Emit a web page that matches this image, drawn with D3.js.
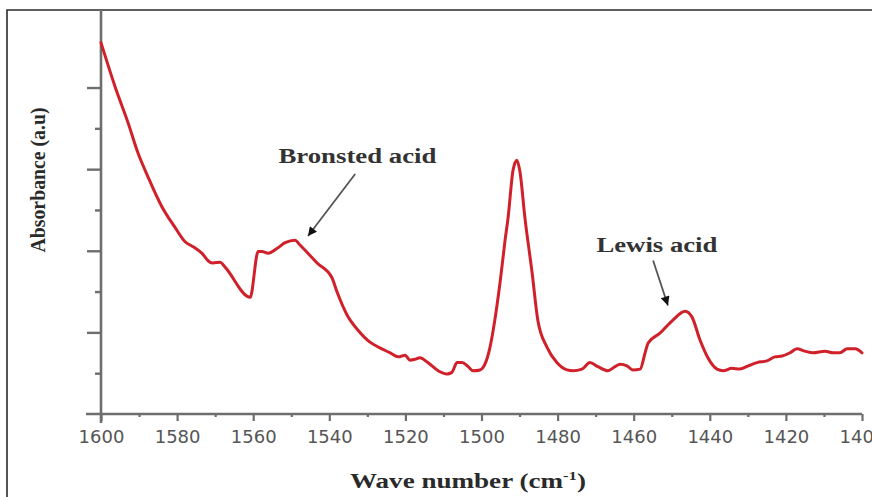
<!DOCTYPE html>
<html>
<head>
<meta charset="utf-8">
<script src="https://cdn.jsdelivr.net/npm/d3@7"></script>
<style>
  html, body { margin: 0; padding: 0; background: #fff; }
  svg { display: block; }
</style>
</head>
<body>
<svg id="chart" width="872" height="497"></svg>
<script>
// wave number (cm-1)
var waveNumbers = [1600, 1596.3, 1592.9, 1590.3, 1587.6, 1584.0, 1580.6, 1577.9, 1575.8, 1573.5,
    1571.4, 1570.6, 1568.7, 1567.4, 1560.8, 1558.7, 1557.7, 1556.1, 1553.7, 1551.6,
    1549.0, 1547.7, 1543.2, 1539.3, 1538.0, 1535.3, 1532.5, 1529.3, 1526.7, 1524.0,
    1521.9, 1520.1, 1518.8, 1517.5, 1516.2, 1514.1, 1511.4, 1509.1, 1507.8, 1506.4,
    1505.1, 1503.5, 1502.2, 1500.4, 1499.1, 1497.8, 1496.5, 1495.1, 1493.8, 1493.0,
    1491.7, 1490.7, 1489.9, 1488.6, 1486.7, 1485.2, 1482.8, 1480.2, 1477.5, 1476.0,
    1473.6, 1471.5, 1469.4, 1466.8, 1464.9, 1463.6, 1461.8, 1460.2, 1458.3, 1457.0,
    1456.2, 1453.1, 1449.7, 1446.5, 1444.7, 1442.6, 1440.5, 1438.1, 1436.5, 1434.2,
    1432.1, 1429.9, 1427.6, 1425.0, 1422.9, 1421.0, 1418.9, 1417.1, 1415.0, 1412.9,
    1409.7, 1407.6, 1405.8, 1403.9, 1401.8, 1400];

// absorbance (arbitrary units)
var absorbance = [4.55, 4.01, 3.57, 3.20, 2.90, 2.54, 2.29, 2.11, 2.05, 1.97,
    1.86, 1.85, 1.86, 1.80, 1.43, 1.99, 1.99, 1.97, 2.03, 2.10,
    2.13, 2.07, 1.85, 1.67, 1.50, 1.21, 1.03, 0.88, 0.81, 0.75,
    0.70, 0.72, 0.66, 0.67, 0.69, 0.63, 0.53, 0.49, 0.51, 0.63,
    0.63, 0.58, 0.53, 0.54, 0.61, 0.81, 1.15, 1.62, 2.13, 2.41,
    2.99, 3.11, 2.97, 2.41, 1.73, 1.15, 0.82, 0.63, 0.54, 0.53,
    0.55, 0.63, 0.58, 0.53, 0.58, 0.61, 0.59, 0.54, 0.55, 0.75,
    0.87, 0.99, 1.15, 1.26, 1.19, 0.91, 0.69, 0.55, 0.53, 0.56,
    0.55, 0.59, 0.63, 0.65, 0.70, 0.71, 0.75, 0.80, 0.77, 0.75,
    0.77, 0.75, 0.75, 0.80, 0.80, 0.75];

var xMajorTicks = [1600, 1580, 1560, 1540, 1520, 1500, 1480, 1460, 1440, 1420, 1400];
var xMinorTicks = [1590, 1570, 1550, 1530, 1510, 1490, 1470, 1450, 1430, 1410];
var yMajorTicks = [1, 2, 3, 4];
var yMinorTicks = [0.5, 1.5, 2.5, 3.5];

// annotations: label, text anchor, arrow tail, arrow tip (data units)
var annotationLabels = ['Bronsted acid', 'Lewis acid'];
var annotationText = [[1532.6, 3.07], [1453.9, 1.99]];
var annotationTail = [[1533.2, 2.94], [1454.9, 1.88]];
var annotationTip = [[1545.6, 2.18], [1451.0, 1.33]];

var svg = d3.select('#chart');

// frame (cropped image border, only top and left visible)
svg.append('path')
    .attr('d', 'M7,497 L7,10 L872,10')
    .attr('fill', 'none')
    .attr('stroke', '#2b2b2b')
    .attr('stroke-width', 1.6);

var x = d3.scaleLinear().domain([1600, 1400]).range([101, 862]);
var y = d3.scaleLinear().domain([0, 4.95]).range([414, 10]);

var axisColor = '#6e6e6e';

// y axis
var yAxis = svg.append('g')
    .attr('transform', 'translate(' + x(1600) + ',0)');
yAxis.call(d3.axisLeft(y).tickValues(yMajorTicks).tickSize(14).tickFormat(''));
yAxis.append('g').call(d3.axisLeft(y).tickValues(yMinorTicks).tickSize(6).tickFormat(''));
yAxis.selectAll('.domain').remove();
yAxis.selectAll('line').attr('stroke', axisColor).attr('stroke-width', 2.4);
yAxis.append('line')
    .attr('x1', 0).attr('x2', 0)
    .attr('y1', y(0) + 9).attr('y2', y(4.95))
    .attr('stroke', axisColor).attr('stroke-width', 2.6);

// x axis
var xAxis = svg.append('g')
    .attr('transform', 'translate(0,' + y(0) + ')');
xAxis.call(d3.axisBottom(x).tickValues(xMajorTicks).tickSize(7).tickPadding(9)
    .tickFormat(d3.format('d')));
xAxis.append('g').call(d3.axisBottom(x).tickValues(xMinorTicks).tickSize(3).tickFormat(''));
xAxis.selectAll('.domain').remove();
xAxis.selectAll('line').attr('stroke', axisColor).attr('stroke-width', 2.2);
xAxis.selectAll('text')
    .attr('fill', '#555')
    .style('font-family', '"DejaVu Sans", sans-serif')
    .style('font-size', '18px');
xAxis.append('line')
    .attr('x1', x(1600) - 15).attr('x2', x(1400))
    .attr('y1', 0).attr('y2', 0)
    .attr('stroke', axisColor).attr('stroke-width', 2.6);

// spectrum
var line = d3.line()
    .x(function(d, i) { return x(waveNumbers[i]); })
    .y(function(d) { return y(d); })
    .curve(d3.curveMonotoneX);

svg.append('path')
    .datum(absorbance)
    .attr('d', line)
    .attr('fill', 'none')
    .attr('stroke', '#d0202a')
    .attr('stroke-width', 3)
    .attr('stroke-linejoin', 'round')
    .attr('stroke-linecap', 'round');

// arrow markers
svg.append('defs').append('marker')
    .attr('id', 'arrow')
    .attr('viewBox', '0 0 10 10')
    .attr('refX', 10).attr('refY', 5)
    .attr('markerWidth', 7).attr('markerHeight', 5)
    .attr('markerUnits', 'strokeWidth')
    .attr('orient', 'auto')
    .append('path')
    .attr('d', 'M0,0 L10,5 L0,10 Z')
    .attr('fill', '#111');

var serif = '"Liberation Serif", "Times New Roman", serif';
var labelWidths = [158, 121];

annotationLabels.forEach(function(label, i) {
    svg.append('line')
        .attr('x1', x(annotationTail[i][0])).attr('y1', y(annotationTail[i][1]))
        .attr('x2', x(annotationTip[i][0])).attr('y2', y(annotationTip[i][1]))
        .attr('stroke', '#555')
        .attr('stroke-width', 1.8)
        .attr('marker-end', 'url(#arrow)');

    svg.append('text')
        .attr('x', x(annotationText[i][0]))
        .attr('y', y(annotationText[i][1]))
        .attr('text-anchor', 'middle')
        .attr('textLength', labelWidths[i])
        .attr('lengthAdjust', 'spacingAndGlyphs')
        .attr('fill', '#333')
        .style('font-family', serif)
        .style('font-weight', 'bold')
        .style('font-size', '20px')
        .text(label);
});

// axis titles
svg.append('text')
    .attr('transform', 'translate(45,180) rotate(-90)')
    .attr('text-anchor', 'middle')
    .attr('textLength', 145)
    .attr('lengthAdjust', 'spacingAndGlyphs')
    .attr('fill', '#2a2a2a')
    .style('font-family', serif)
    .style('font-weight', 'bold')
    .style('font-size', '20px')
    .text('Absorbance (a.u)');

var xTitle = svg.append('text')
    .attr('x', 468)
    .attr('y', 488)
    .attr('text-anchor', 'middle')
    .attr('textLength', 236)
    .attr('lengthAdjust', 'spacingAndGlyphs')
    .attr('fill', '#2a2a2a')
    .style('font-family', serif)
    .style('font-weight', 'bold')
    .style('font-size', '21px');
xTitle.append('tspan').text('Wave number (cm');
xTitle.append('tspan').attr('dy', -8).style('font-size', '13px').text('-1');
xTitle.append('tspan').attr('dy', 8).text(')');
</script>
</body>
</html>
